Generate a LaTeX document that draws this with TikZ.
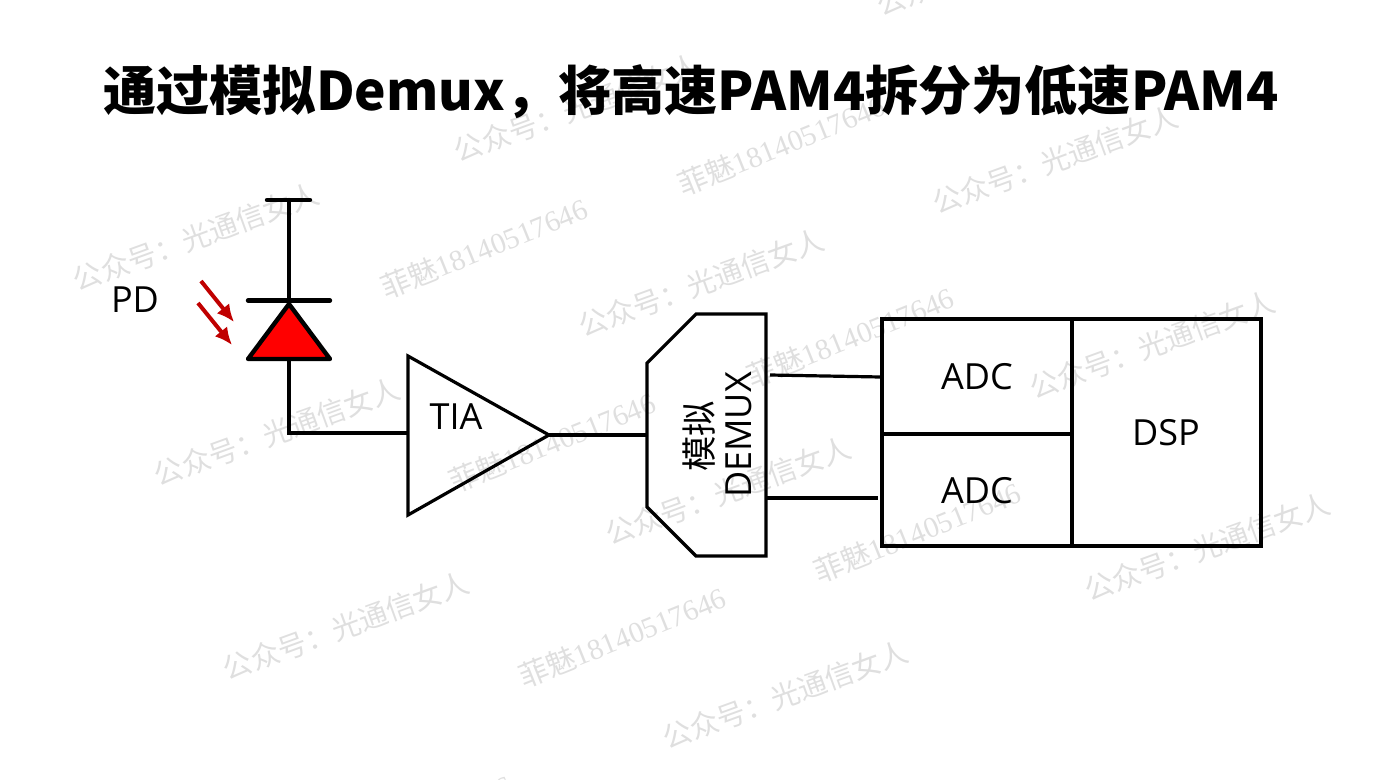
\documentclass[tikz,border=0pt]{standalone}
\usepackage{fontspec}
\setmainfont{Open Sans}
\newfontfamily\cjk{Noto Sans CJK SC}
\newfontfamily\wmserif{Liberation Serif}
\usetikzlibrary{arrows.meta}
\definecolor{wm}{gray}{0.875}
\definecolor{darkred}{RGB}{192,0,0}
\tikzset{
  wmA/.style={rotate=20,text=wm,inner sep=0pt,font=\cjk\fontsize{21.6}{22}\selectfont},
  wmB/.style={rotate=22,text=wm,inner sep=0pt,font=\fontsize{22}{22}\selectfont},
  label/.style={inner sep=0pt,font=\fontsize{27}{27}\selectfont},
  thin line/.style={line width=2.4pt,line join=miter},
  thick line/.style={line width=3.3pt,line cap=round,line join=round},
  ray/.style={line width=3pt,draw=darkred,-{Latex[length=13pt,width=12pt]}},
  titlestyle/.style={inner sep=0pt,font=\cjk\bfseries\fontsize{39.85}{40}\selectfont}
}
\newcommand{\wma}{公众号：光通信女人}
\newcommand{\wmb}{{\cjk 菲魅}{\wmserif 18140517646}}
\begin{document}
\begin{tikzpicture}[x=0.75pt,y=-0.75pt]
\useasboundingbox (0,0) rectangle (1384,779);
\clip (0,0) rectangle (1384,779);
% watermarks
\foreach \i/\p in {a/{196,237},b/{577,108},c/{1055,160},d/{701,283},e/{277,432},f/{1152,345},g/{728,491},h/{1207,547},i/{346,626},j/{785,695},k/{999,-38}}
  \node[wmA] (wa\i) at (\p) {\wma};
\foreach \i/\p in {a/{484,248},b/{781,145},c/{850,337},d/{552,442},e/{917,532},f/{622,637},g/{408,825}}
  \node[wmB] (wb\i) at (\p) {\wmb};
% title
\node[titlestyle] (title) at (691,92) {通过模拟Demux，将高速PAM4拆分为低速PAM4};
% photodiode
\coordinate (pdtopL) at (267,200);
\coordinate (pdtopR) at (310,200);
\coordinate (pdtop) at (289,200);
\coordinate (pdbarL) at (248,300.5);
\coordinate (pdbarR) at (330,300.5);
\coordinate (pdbar) at (289,300.5);
\coordinate (pdapex) at (289,304);
\coordinate (pdL) at (248,359);
\coordinate (pdR) at (330,359);
\coordinate (pdbase) at (289,359);
\coordinate (corner) at (289,433);
\coordinate (tiain) at (408,433);
\draw[thick line] (pdtopL) -- (pdtopR);
\draw[thick line] (pdtop) -- (pdbar);
\draw[thick line] (pdbarL) -- (pdbarR);
\draw[thick line,fill=red] (pdapex) -- (pdR) -- (pdL) -- cycle;
\draw[thick line,line cap=butt,line join=miter] (pdbase) -- (corner) -- (tiain);
\coordinate (r1a) at (201,281);
\coordinate (r1b) at (234,322);
\coordinate (r2a) at (198,303);
\coordinate (r2b) at (232,345);
\draw[ray] (r1a) -- (r1b);
\draw[ray] (r2a) -- (r2b);
\node[label] (pd) at (135,300) {PD};
% TIA
\coordinate (t1) at (408,356);
\coordinate (t2) at (408,515);
\coordinate (t3) at (549,435);
\draw[thin line] (t1) -- (t3) -- (t2) -- cycle;
\node[label] (tia) at (456,417) {TIA};
% DEMUX
\coordinate (d1) at (647,363);
\coordinate (d2) at (696,314);
\coordinate (d3) at (766,314);
\coordinate (d4) at (766,556);
\coordinate (d5) at (696,556);
\coordinate (d6) at (647,507);
\coordinate (din) at (647,435);
\coordinate (dout1) at (770,375);
\coordinate (dout2) at (766,498);
\draw[thin line] (d1) -- (d2) -- (d3) -- (d4) -- (d5) -- (d6) -- cycle;
\draw[thin line] (t3) -- (din);
\node[inner sep=0pt,rotate=90,font=\cjk\fontsize{26.5}{27}\selectfont] (mn) at (699,436) {模拟};
\node[label,rotate=90] (dm) at (739,435) {DEMUX};
% ADC/DSP
\coordinate (b1) at (882,319);
\coordinate (b2) at (1261,546);
\coordinate (bm1) at (1072,319);
\coordinate (bm2) at (1072,546);
\coordinate (bl) at (882,434);
\coordinate (br) at (1072,434);
\coordinate (aout1) at (881,377);
\coordinate (aout2) at (878,498);
\draw[thin line] (b1) rectangle (b2);
\draw[thin line] (bm1) -- (bm2);
\draw[thin line] (bl) -- (br);
\draw[thin line] (dout1) -- (aout1);
\draw[thin line] (dout2) -- (aout2);
\node[label] (adc1) at (977,377) {ADC};
\node[label] (adc2) at (977,491) {ADC};
\node[label] (dsp) at (1166,433) {DSP};
\end{tikzpicture}
\end{document}
